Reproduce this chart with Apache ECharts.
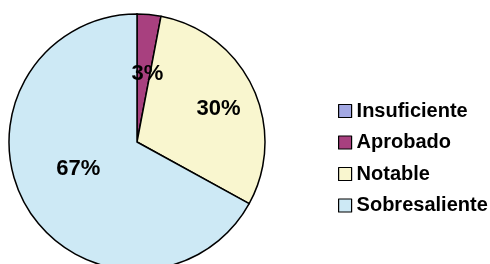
<!DOCTYPE html>
<html>
<head>
<meta charset="utf-8">
<script src="https://cdn.jsdelivr.net/npm/echarts@6/dist/echarts.min.js"></script>
<style>
  html, body { margin: 0; padding: 0; background: #fff; }
  #chart { width: 490px; height: 264px; }
</style>
</head>
<body>
<div id="chart"></div>
<script>
// datos de la tarta
const categories = ['Insuficiente', 'Aprobado', 'Notable', 'Sobresaliente']
const values = [0, 3, 30, 67]
const colors = ['#a3a8e3', '#a8407f', '#f9f6cf', '#cde9f5']
// desplazamiento de las etiquetas (como en el original de Excel)
const labelOffsets = [[0, 0], [4, -1], [21, -5], [-1, -7]]

const chart = echarts.init(document.getElementById('chart'))

const option = {
  backgroundColor: '#fff',
  animation: false,
  legend: {
    orient: 'vertical',
    left: 333,
    top: 96,
    itemWidth: 13,
    itemHeight: 13,
    itemGap: 11.5,
    icon: 'rect',
    data: categories,
    itemStyle: {
      borderColor: '#000',
      borderWidth: 1.2
    },
    textStyle: {
      fontFamily: 'Liberation Sans, Arial, sans-serif',
      fontWeight: 'bold',
      fontSize: 20,
      lineHeight: 20,
      color: '#000'
    }
  },
  series: [
    {
      type: 'pie',
      center: [137, 142],
      radius: 128,
      startAngle: 90,
      clockwise: true,
      minAngle: 0,
      avoidLabelOverlap: false,
      itemStyle: {
        borderColor: '#000',
        borderWidth: 1.5
      },
      label: {
        position: 'inside',
        formatter: '{d}%',
        fontFamily: 'Liberation Sans, Arial, sans-serif',
        fontWeight: 'bold',
        fontSize: 22,
        color: '#000'
      },
      labelLine: { show: false },
      emphasis: { disabled: true },
      data: categories.map((name, i) => ({
        name: name,
        value: values[i],
        itemStyle: { color: colors[i] },
        label: { show: values[i] > 0, offset: labelOffsets[i] }
      }))
    }
  ]
}

chart.setOption(option)
</script>
</body>
</html>
